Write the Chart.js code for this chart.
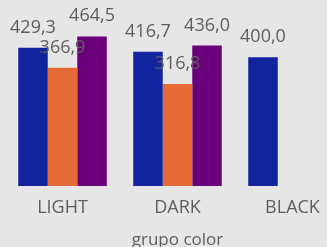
<!DOCTYPE html>
<html>
<head>
<meta charset="utf-8">
<script src="https://cdn.jsdelivr.net/npm/chart.js@4.4.1/dist/chart.umd.min.js"></script>
<style>
  html, body { margin: 0; padding: 0; background: #e6e6e6; overflow: hidden; }
  #wrap { position: absolute; left: 0; top: 0; width: 360px; height: 253px; }
</style>
</head>
<body>
<div id="wrap"><canvas id="chart" width="360" height="253"></canvas></div>
<script>
const categories = ['LIGHT', 'DARK', 'BLACK'];
const seriesBlue = [429.3, 416.7, 400.0];
const seriesOrange = [366.9, 316.8, null];
const seriesPurple = [464.5, 436.0, null];

const TEXT = '#605E5C';
const FONT = "'Open Sans', 'Noto Sans', sans-serif";

// data labels above every bar, comma decimal like the source
const barLabels = {
  id: 'barLabels',
  afterDatasetsDraw(chart) {
    const { ctx } = chart;
    ctx.save();
    ctx.font = `18px ${FONT}`;
    ctx.fillStyle = TEXT;
    ctx.textAlign = 'center';
    ctx.textBaseline = 'alphabetic';
    chart.data.datasets.forEach((ds, i) => {
      chart.getDatasetMeta(i).data.forEach((bar, j) => {
        const v = ds.data[j];
        if (v == null) return;
        ctx.fillText(v.toFixed(1).replace('.', ','), bar.x, bar.y - 15);
      });
    });
    ctx.restore();
  }
};

new Chart(document.getElementById('chart'), {
  type: 'bar',
  data: {
    labels: categories,
    datasets: [
      { data: seriesBlue, backgroundColor: '#12239E' },
      { data: seriesOrange, backgroundColor: '#E66C37' },
      { data: seriesPurple, backgroundColor: '#6B007B' }
    ]
  },
  options: {
    responsive: false,
    animation: false,
    categoryPercentage: 0.77,
    barPercentage: 1,
    layout: { padding: { left: 5, right: 10, top: 25, bottom: 0 } },
    plugins: { legend: { display: false }, tooltip: { enabled: false } },
    scales: {
      x: {
        grid: { display: false, drawTicks: false },
        border: { display: false },
        ticks: { color: TEXT, font: { family: FONT, size: 18 }, padding: 11 },
        title: {
          display: true, text: 'grupo color', color: TEXT,
          font: { family: FONT, size: 17 }, padding: { top: 0, bottom: 3 }
        }
      },
      y: { display: false, min: 0, max: 500 }
    }
  },
  plugins: [barLabels]
});
</script>
</body>
</html>
